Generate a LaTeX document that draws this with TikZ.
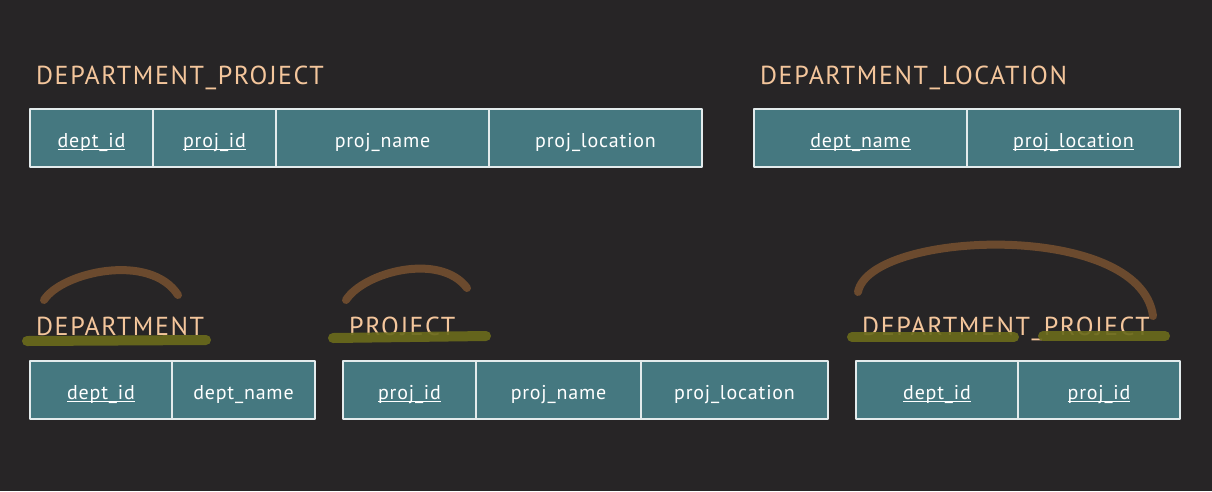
\documentclass[tikz,border=0pt]{standalone}
\usepackage{fontspec}
\setmainfont{PT Sans}
\newfontfamily\titlefont[LetterSpace=6]{PT Sans}
\newfontfamily\cellfont[LetterSpace=4]{PT Sans}
\usetikzlibrary{positioning}
\definecolor{bgdark}{HTML}{272526}
\definecolor{cellteal}{HTML}{457880}
\definecolor{titlepeach}{HTML}{F4C69C}
\definecolor{arcbrown}{HTML}{6B4A2E}
\definecolor{hiliteolive}{HTML}{6A6A1C}
\tikzset{
  cell/.style={draw=white!85!cellteal,line width=1.3pt,fill=cellteal,text=white,
    minimum height=58,inner sep=0pt,text height=22pt,text depth=4pt,
    font=\cellfont\fontsize{20}{22}\selectfont},
  title/.style={anchor=base west,text=titlepeach,inner sep=0pt,
    font=\titlefont\fontsize{26}{28}\selectfont},
  arcpen/.style={arcbrown,line width=8pt,line cap=round},
  hilite/.style={hiliteolive,line width=10pt,line cap=round,opacity=.92},
}
\newcommand{\keyattr}[1]{\sbox0{#1}\rlap{\rule[-3.4pt]{\wd0}{1.2pt}}\usebox0}

\begin{document}
\begin{tikzpicture}[line cap=round,line join=round,x=1pt,y=-1pt]
\fill[bgdark] (0,0) rectangle (1212,491);
% top row
\node[title] (tdp) at (36,84) {DEPARTMENT\_PROJECT};
\node[cell,minimum width=123] (dpa) at (91.5,138) {\keyattr{dept\_id}};
\node[cell,minimum width=123] (dpb) at (214.5,138) {\keyattr{proj\_id}};
\node[cell,minimum width=213] (dpc) at (382.5,138) {proj\_name};
\node[cell,minimum width=213] (dpd) at (595.5,138) {proj\_location};
\node[title] (tdl) at (760,84) {DEPARTMENT\_LOCATION};
\node[cell,minimum width=213] (dla) at (860.5,138) {\keyattr{dept\_name}};
\node[cell,minimum width=213] (dlb) at (1073.5,138) {\keyattr{proj\_location}};
% bottom row
\node[title] (tde) at (36,335) {DEPARTMENT};
\node[cell,minimum width=142] (dea) at (101,390) {\keyattr{dept\_id}};
\node[cell,minimum width=143] (deb) at (243.5,390) {dept\_name};
\node[title] (tpr) at (349,335) {PROJECT};
\node[cell,minimum width=133] (pra) at (409.5,390) {\keyattr{proj\_id}};
\node[cell,minimum width=165] (prb) at (558.5,390) {proj\_name};
\node[cell,minimum width=187] (prc) at (734.5,390) {proj\_location};
\node[title] (tdx) at (862,335) {DEPARTMENT\_PROJECT};
\node[cell,minimum width=162] (dxa) at (937,390) {\keyattr{dept\_id}};
\node[cell,minimum width=162] (dxb) at (1099,390) {\keyattr{proj\_id}};
% pen marks
\draw[hilite] (27,341)-- (206,340);
\draw[hilite] (333,338)-- (486,336);
\draw[hilite] (852,337)-- (1014,337);
\draw[hilite] (1043,336)-- (1165,336);
\draw[arcpen] (44,300) .. controls (62,272) and (150,252) .. (178,295);
\draw[arcpen] (346,300) .. controls (364,272) and (440,252) .. (467,288);
\draw[arcpen] (858,292) .. controls (870,230) and (1140,220) .. (1153,316);
\end{tikzpicture}
\end{document}
